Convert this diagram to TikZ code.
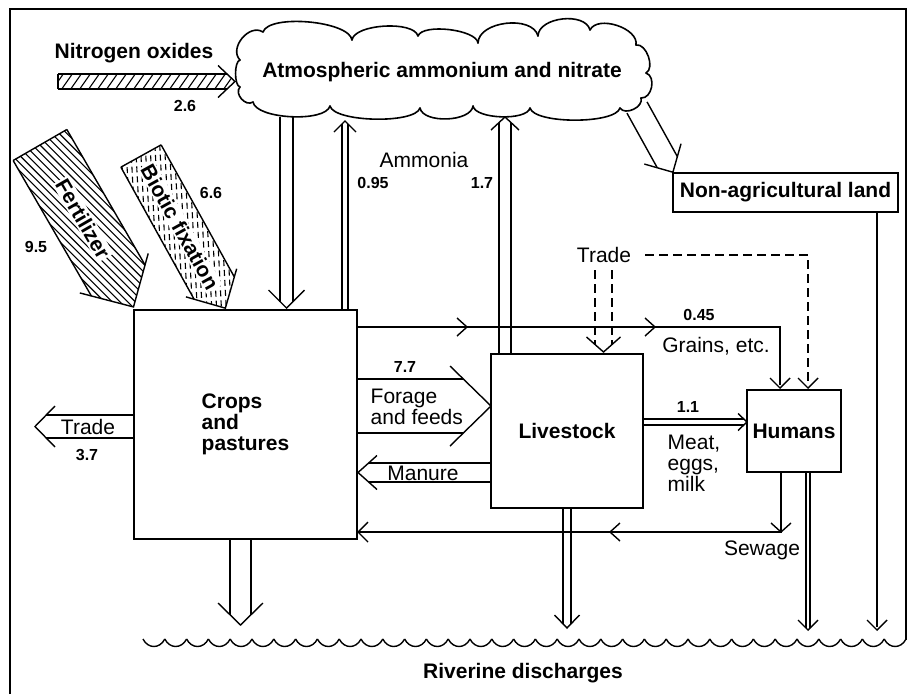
\documentclass[tikz,border=0pt]{standalone}
\usepackage{fontspec}
\setmainfont{Liberation Sans}
\usetikzlibrary{calc}
% open block arrow: [opt] base-x base-y rotation length half-width head-length wing-half
\newcommand\barrow[8][]{%
  \begin{scope}[shift={(#2,#3)},rotate=#4]
    \pgfmathsetmacro\bsx{#5-#7*#6/#8}
    \draw[#1] (0,#6) -- (\bsx,#6) (0,-#6) -- (\bsx,-#6);
    \draw (#5-#7,#8) -- (#5,0) -- (#5-#7,-#8);
  \end{scope}}
% hatched block arrow with back edge: bx by rot L w h W hatch-angle spacing
\newcommand\hbarrow[9]{%
  \begin{scope}[shift={(#1,#2)},rotate=#3]
    \pgfmathsetmacro\bsx{#4-#6*#5/#7}
    \begin{scope}
      \clip (0,#5) -- (\bsx,#5) -- (#4,0) -- (\bsx,-#5) -- (0,-#5) -- cycle;
      \foreach \k in {-30,...,60}{\draw[hatch] ({\k*#9},0) ++(#8+180:160) -- ++(#8:320);}
    \end{scope}
    \draw (0,#5) -- (\bsx,#5) (0,-#5) -- (\bsx,-#5) (0,#5) -- (0,-#5);
    \draw (#4-#6,#7) -- (#4,0) -- (#4-#6,-#7);
  \end{scope}}
% one puff of the cloud: x1 y1 x2 y2 bulge-factor
\newcommand\puff[5]{%
  \pgfmathsetmacro\pdx{#3-#1}\pgfmathsetmacro\pdy{#4-#2}%
  \pgfmathsetmacro\pca{#1+0.05*\pdx+#5*\pdy}\pgfmathsetmacro\pcb{#2+0.05*\pdy-#5*\pdx}%
  \pgfmathsetmacro\pcc{#3-0.05*\pdx+#5*\pdy}\pgfmathsetmacro\pcd{#4-0.05*\pdy-#5*\pdx}%
  \draw[cloudline] (#1,#2) .. controls (\pca,\pcb) and (\pcc,\pcd) .. (#3,#4);}
\begin{document}
\begin{tikzpicture}[x=1pt,y=-1pt,line width=1.4pt,
  lab/.style={font=\fontsize{21}{21}\selectfont, inner sep=0pt},
  blab/.style={font=\fontsize{21}{21}\selectfont\bfseries, inner sep=0pt},
  num/.style={font=\fontsize{16}{16}\selectfont\bfseries, inner sep=0pt},
  box/.style={draw, line width=2.4pt, fill=white, font=\fontsize{21}{21}\selectfont\bfseries, inner sep=0pt},
  hatch/.style={line width=1.1pt},
  cloudline/.style={line width=1.6pt, line cap=round},
  dsh/.style={dash pattern=on 9pt off 5pt}]
\useasboundingbox (0,0) rectangle (910,694);
% frame
\draw[line width=2pt] (10,694) -- (10,9) -- (906,9) -- (906,640);

% cloud: Atmospheric ammonium and nitrate
\puff{240}{60}{263}{32}{0.45}
\puff{263}{32}{352}{40}{0.21}
\puff{352}{40}{418}{36}{0.24}
\puff{418}{36}{478}{43}{0.22}
\puff{478}{43}{538}{36}{0.36}
\puff{538}{36}{590}{30}{0.36}
\puff{590}{30}{636}{45}{0.35}
\puff{636}{45}{646}{73}{0.35}
\puff{646}{73}{641}{98}{0.43}
\puff{641}{98}{620}{108}{0.40}
\puff{620}{108}{530}{108}{0.18}
\puff{530}{108}{473}{106}{0.23}
\puff{473}{106}{420}{108}{0.30}
\puff{420}{108}{330}{106}{0.18}
\puff{330}{106}{253}{102}{0.22}
\puff{253}{102}{240}{87}{0.45}
\puff{240}{87}{240}{60}{0.22}
\coordinate (atm) at (442,71);
\node[blab] (atmt) at (442,72) {Atmospheric ammonium and nitrate};

% hatched inputs
\hbarrow{58}{81.5}{0}{177}{7.5}{17}{16}{-55}{9}
\hbarrow{40}{145}{-60}{187}{31}{39}{39.5}{-15}{21}
\begin{scope}[hatch/.append style={dash pattern=on 6pt off 4pt}]
\hbarrow{141}{156}{-61}{174}{23}{29}{29}{26}{11}
\end{scope}

% block arrows
\barrow{286.5}{117}{-90}{191}{6.5}{18}{18}
\barrow{345}{310}{90}{189}{3}{11}{11}
\barrow{505}{354}{90}{237}{6}{13}{14}
\barrow{637}{107.5}{-61}{74}{11.5}{21}{21}
\barrow{134}{426.5}{180}{99}{11.5}{20}{20.5}
\barrow{357}{406}{0}{134}{27}{41}{40}
\barrow{491}{472.5}{180}{133}{9.5}{19}{17}
\barrow{643}{422}{0}{104}{3}{9}{8.5}
\barrow{808}{472}{-90}{158}{2}{10}{10}
\barrow{567}{508}{-90}{120}{4}{13}{12.5}
\barrow{240.5}{539}{-90}{86}{10.5}{22}{22.5}
\barrow[dsh]{603.5}{270}{-90}{82}{8.5}{15}{17}

% non-agricultural land to river
\draw[line width=2.6pt] (877,212) -- (877,627);
\draw (867,620) -- (877,630) -- (887,620);

% dashed trade to humans
\draw[dsh] (645,255) -- (808,255) -- (808,385);
\draw (798,378) -- (808,388) -- (818,378);

% grains
\draw[line width=2.8pt] (357,327) -- (780,327) -- (780,385);
\draw (770,378) -- (780,388) -- (790,378);
\draw (457,318) -- (467,327) -- (457,336);
\draw (645,318) -- (655,327) -- (645,336);

% sewage
\draw (781,472) -- (781,532) -- (358,532);
\draw (771,523) -- (781,532) -- (791,523);
\draw (620,523) -- (610,532) -- (620,541);
\draw (368,522) -- (358,532) -- (368,542);

% boxes
\node[box, minimum width=223pt, minimum height=229pt, align=left] (crops) at (245.5,424.5) {Crops\\and\\pastures};
\node[box, minimum width=152pt, minimum height=154pt] (live) at (567,431) {Livestock};
\node[box, minimum width=94pt, minimum height=82pt] (hum) at (794,431) {Humans};
\node[box, minimum width=225pt, minimum height=39pt] (nonag) at (785.5,192.5) {Non-agricultural land};

% labels
\node[blab] (nox) at (134,53) {Nitrogen oxides};
\node[num] (n26) at (185,106) {2.6};
\node[num] (n95) at (36,247) {9.5};
\node[num] (n66) at (211,193) {6.6};
\node[blab, rotate=-60, fill=white, inner sep=1.5pt] (fert) at (83,219) {Fertilizer};
\node[blab, rotate=-61, fill=white, inner sep=1.5pt] (bio) at (180,227) {Biotic fixation};
\node[lab] (amm) at (424,160) {Ammonia};
\node[num] (n095) at (373,183) {0.95};
\node[num] (n17) at (482,183) {1.7};
\node[lab] (trd) at (604,255) {Trade};
\node[num] (n045) at (699,315) {0.45};
\node[lab] (grn) at (716,346) {Grains, etc.};
\node[num] (n77) at (405,367) {7.7};
\node[lab, anchor=west, align=left] (forage) at (370,407) {Forage\\and feeds};
\node[lab] (man) at (423,473) {Manure};
\node[lab] (trl) at (88,427) {Trade};
\node[num] (n37) at (87,455) {3.7};
\node[num] (n11) at (688,407) {1.1};
\node[lab, anchor=west, align=left] (meat) at (667,463) {Meat,\\eggs,\\milk};
\node[lab] (sew) at (762,550) {Sewage};
\node[blab] (riv) at (523,673) {Riverine discharges};

% river
\foreach \i in {0,...,34}{
  \pgfmathsetmacro\xa{143+\i*21.8}
  \pgfmathsetmacro\xb{\xa+5}
  \pgfmathsetmacro\xc{\xa+16.8}
  \pgfmathsetmacro\xd{\xa+21.8}
  \draw (\xa,639) .. controls (\xb,649) and (\xc,649) .. (\xd,639);
}
\end{tikzpicture}
\end{document}
